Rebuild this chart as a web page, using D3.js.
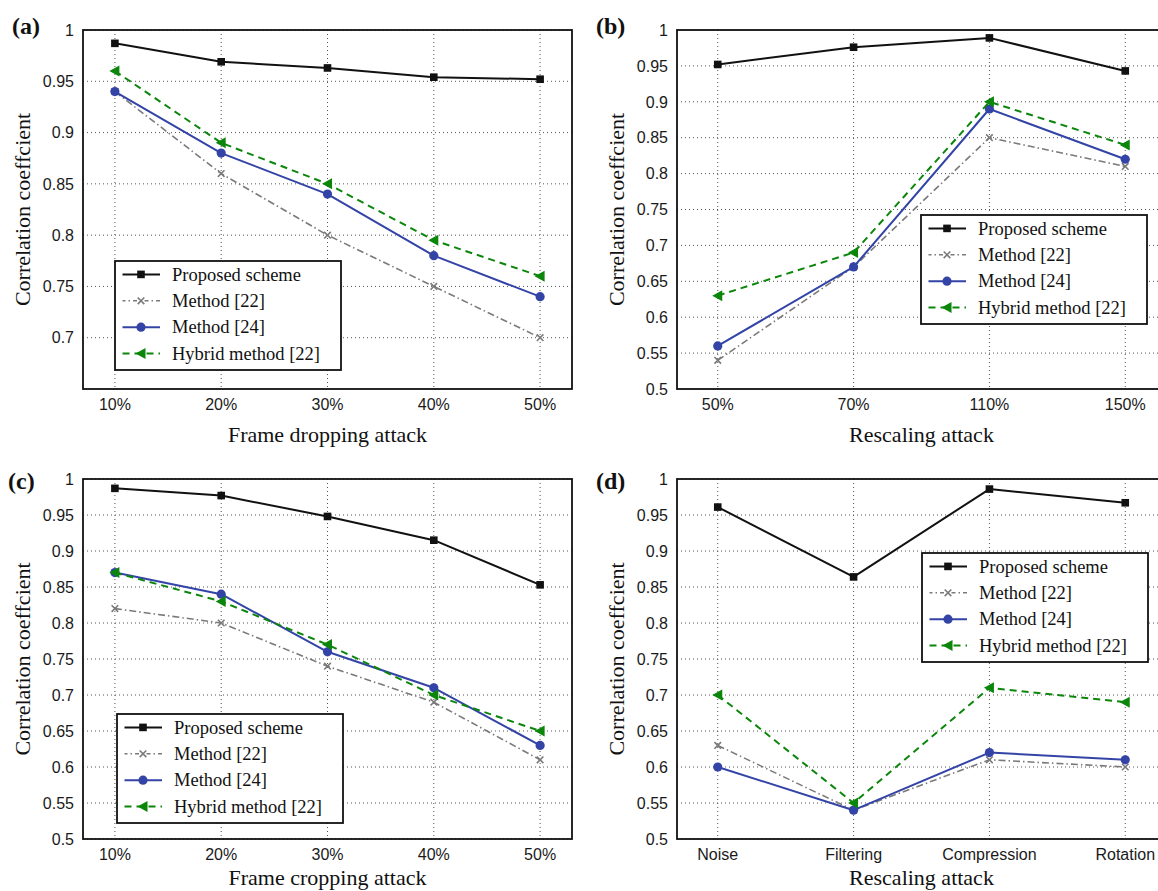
<!DOCTYPE html>
<html>
<head>
<meta charset="utf-8">
<script src="https://cdn.jsdelivr.net/npm/d3@7"></script>
<style>
  html, body { margin: 0; padding: 0; background: #fff; overflow: hidden; }
  svg { display: block; }
</style>
</head>
<body>
<svg id="chart" width="1158" height="891"></svg>
<script>
// ---------------- DATA ----------------
const seriesNames = ["Proposed scheme", "Method [22]", "Method [24]", "Hybrid method [22]"];

// (a) Frame dropping attack
const catsA = ["10%", "20%", "30%", "40%", "50%"];
const proposedA = [0.987, 0.969, 0.963, 0.954, 0.952];
const method22A = [0.94, 0.86, 0.80, 0.75, 0.70];
const method24A = [0.94, 0.88, 0.84, 0.78, 0.74];
const hybridA   = [0.96, 0.89, 0.85, 0.795, 0.76];
const yTicksA   = [0.7, 0.75, 0.8, 0.85, 0.9, 0.95, 1];

// (b) Rescaling attack
const catsB = ["50%", "70%", "110%", "150%"];
const proposedB = [0.952, 0.976, 0.989, 0.943];
const method22B = [0.54, 0.67, 0.85, 0.81];
const method24B = [0.56, 0.67, 0.89, 0.82];
const hybridB   = [0.63, 0.69, 0.90, 0.84];

// (c) Frame cropping attack
const catsC = ["10%", "20%", "30%", "40%", "50%"];
const proposedC = [0.987, 0.977, 0.948, 0.915, 0.853];
const method22C = [0.82, 0.80, 0.74, 0.69, 0.61];
const method24C = [0.87, 0.84, 0.76, 0.71, 0.63];
const hybridC   = [0.87, 0.83, 0.77, 0.70, 0.65];

// (d) Other attacks
const catsD = ["Noise", "Filtering", "Compression", "Rotation"];
const proposedD = [0.961, 0.864, 0.986, 0.967];
const method22D = [0.63, 0.54, 0.61, 0.60];
const method24D = [0.60, 0.54, 0.62, 0.61];
const hybridD   = [0.70, 0.55, 0.71, 0.69];

const yTicksFull = [0.5, 0.55, 0.6, 0.65, 0.7, 0.75, 0.8, 0.85, 0.9, 0.95, 1];

// ---------------- LAYOUT / STYLE ----------------
const styles = [
  { color: "#111111", width: 2,   dash: null,          marker: "square" },
  { color: "#7a7a7a", width: 1.6, dash: "7,3,1.5,3",   marker: "x" },
  { color: "#3344a6", width: 2,   dash: null,          marker: "circle" },
  { color: "#0b860b", width: 2,   dash: "7,5",         marker: "triangle" }
];

const panels = [
  { letter: "(a)", lx: 12, ly: 34, cats: catsA, series: [proposedA, method22A, method24A, hybridA],
    yDomain: [0.65, 1], yTicks: yTicksA, xTitle: "Frame dropping attack", titleDy: 53,
    left: 83, top: 30, width: 489, height: 359, legX: 115, legY: 261 },
  { letter: "(b)", lx: 596, ly: 34, cats: catsB, series: [proposedB, method22B, method24B, hybridB],
    yDomain: [0.5, 1], yTicks: yTicksFull, xTitle: "Rescaling attack", titleDy: 53,
    left: 677, top: 30, width: 489, height: 359, legX: 921, legY: 215 },
  { letter: "(c)", lx: 8, ly: 489, cats: catsC, series: [proposedC, method22C, method24C, hybridC],
    yDomain: [0.5, 1], yTicks: yTicksFull, xTitle: "Frame cropping attack", titleDy: 46,
    left: 83, top: 479, width: 489, height: 360, legX: 117, legY: 714 },
  { letter: "(d)", lx: 596, ly: 489, cats: catsD, series: [proposedD, method22D, method24D, hybridD],
    yDomain: [0.5, 1], yTicks: yTicksFull, xTitle: "Rescaling attack", titleDy: 46,
    left: 677, top: 479, width: 489, height: 360, legX: 922, legY: 553 }
];

const svg = d3.select("#chart");
const SERIF = "'Liberation Serif', 'Times New Roman', serif";
const SANS = "'Liberation Sans', Arial, sans-serif";

function drawMarker(g, type, x, y, color) {
  if (type === "square") {
    g.append("rect").attr("x", x - 3.8).attr("y", y - 3.8).attr("width", 7.6).attr("height", 7.6)
      .attr("fill", color);
  } else if (type === "x") {
    const s = 3.3;
    g.append("path").attr("d", `M${x - s},${y - s}L${x + s},${y + s}M${x - s},${y + s}L${x + s},${y - s}`)
      .attr("stroke", color).attr("stroke-width", 1.6).attr("fill", "none");
  } else if (type === "circle") {
    g.append("circle").attr("cx", x).attr("cy", y).attr("r", 4.6).attr("fill", color);
  } else if (type === "triangle") {
    g.append("path").attr("d", `M${x - 5.5},${y}L${x + 4.5},${y - 5.5}L${x + 4.5},${y + 5.5}Z`)
      .attr("fill", color);
  }
}

panels.forEach(p => {
  const g = svg.append("g");
  const x = d3.scalePoint().domain(p.cats).range([p.left, p.left + p.width]).padding(0.3);
  const y = d3.scaleLinear().domain(p.yDomain).range([p.top + p.height, p.top]);
  const bottom = p.top + p.height;

  // grid lines
  const grid = g.append("g").attr("stroke", "#555").attr("stroke-width", 1).attr("stroke-dasharray", "1,3");
  p.yTicks.forEach(t => {
    grid.append("line").attr("x1", p.left).attr("x2", p.left + p.width).attr("y1", y(t)).attr("y2", y(t));
  });
  p.cats.forEach(c => {
    grid.append("line").attr("x1", x(c)).attr("x2", x(c)).attr("y1", p.top).attr("y2", bottom);
  });

  // y tick labels
  p.yTicks.forEach(t => {
    g.append("text").attr("x", p.left - 9).attr("y", y(t)).attr("dy", "0.36em")
      .attr("text-anchor", "end").attr("font-family", SANS).attr("font-size", 16).attr("fill", "#1a1a1a")
      .text(String(+t.toFixed(2)));
  });
  // x tick labels
  p.cats.forEach(c => {
    g.append("text").attr("x", x(c)).attr("y", bottom + 21)
      .attr("text-anchor", "middle").attr("font-family", SANS).attr("font-size", 16).attr("fill", "#1a1a1a")
      .text(c);
  });

  // series
  p.series.forEach((vals, i) => {
    const st = styles[i];
    const data = vals.map((v, j) => [x(p.cats[j]), y(v)]);
    const path = g.append("path").attr("d", d3.line()(data)).attr("fill", "none")
      .attr("stroke", st.color).attr("stroke-width", st.width).attr("stroke-linejoin", "round");
    if (st.dash) path.attr("stroke-dasharray", st.dash);
    data.forEach(d => drawMarker(g, st.marker, d[0], d[1], st.color));
  });

  // frame
  g.append("rect").attr("x", p.left).attr("y", p.top).attr("width", p.width).attr("height", p.height)
    .attr("fill", "none").attr("stroke", "#111").attr("stroke-width", 1.8);

  // legend
  const lg = g.append("g");
  lg.append("rect").attr("x", p.legX).attr("y", p.legY).attr("width", 226).attr("height", 109)
    .attr("fill", "#fff").attr("stroke", "#111").attr("stroke-width", 1.8);
  seriesNames.forEach((name, i) => {
    const st = styles[i];
    const ry = p.legY + 13.4 + i * 26.4;
    const ln = lg.append("line").attr("x1", p.legX + 7.5).attr("x2", p.legX + 45).attr("y1", ry).attr("y2", ry)
      .attr("stroke", st.color).attr("stroke-width", st.width);
    if (st.dash) ln.attr("stroke-dasharray", i === 3 ? "7,5" : "4,3,1.5,3").attr("stroke-dashoffset", i === 3 ? 0 : 1);
    drawMarker(lg, st.marker, p.legX + 26, ry, st.color);
    lg.append("text").attr("x", p.legX + 57).attr("y", ry).attr("dy", "0.33em")
      .attr("font-family", SERIF).attr("font-size", 18.5).attr("fill", "#111").text(name);
  });

  // axis titles
  g.append("text").attr("x", p.left + p.width / 2).attr("y", bottom + p.titleDy)
    .attr("text-anchor", "middle").attr("font-family", SERIF).attr("font-size", 22).attr("fill", "#111")
    .text(p.xTitle);
  g.append("text").attr("transform", `translate(${p.left - 53},${p.top + p.height / 2}) rotate(-90)`)
    .attr("text-anchor", "middle").attr("font-family", SERIF).attr("font-size", 22).attr("fill", "#111")
    .text("Correlation coeffcient");

  // panel letter
  g.append("text").attr("x", p.lx).attr("y", p.ly).attr("font-family", SERIF).attr("font-weight", "bold")
    .attr("font-size", 24).attr("fill", "#111").text(p.letter);
});
</script>
</body>
</html>
